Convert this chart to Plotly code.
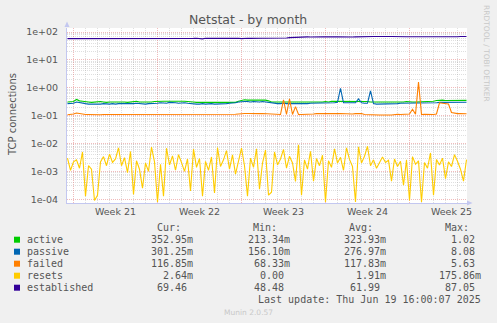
import pandas as pd
import plotly.graph_objects as go

# ---------------- data (6-hour samples) ----------------
start_time = "2025-05-18 12:00"
n_samples = 134

active = [0.31,0.31,0.32,0.38,0.34,0.33,0.31,0.31,0.30,0.31,
          0.31,0.32,0.31,0.30,0.31,0.31,0.32,0.31,0.31,0.31,
          0.30,0.31,0.31,0.33,0.31,0.31,0.30,0.31,0.31,0.32,
          0.33,0.34,0.33,0.33,0.34,0.33,0.33,0.32,0.33,0.33,
          0.33,0.32,0.31,0.30,0.30,0.31,0.30,0.30,0.31,0.30,
          0.30,0.31,0.30,0.30,0.31,0.30,0.30,0.33,0.36,0.37,
          0.36,0.36,0.37,0.36,0.35,0.36,0.36,0.34,0.31,0.31,
          0.31,0.30,0.31,0.31,0.31,0.30,0.31,0.31,0.30,0.31,
          0.31,0.31,0.30,0.31,0.31,0.31,0.32,0.31,0.33,0.33,
          0.33,0.34,0.33,0.33,0.33,0.34,0.33,0.33,0.33,0.33,
          0.32,0.31,0.31,0.31,0.30,0.31,0.31,0.31,0.30,0.31,
          0.31,0.31,0.31,0.32,0.31,0.31,0.31,0.31,0.31,0.31,
          0.31,0.32,0.33,0.35,0.36,0.36,0.35,0.35,0.36,0.36,
          0.35,0.36,0.35,0.353]

passive = [0.27,0.27,0.28,0.31,0.29,0.28,0.27,0.26,0.26,0.25,
           0.25,0.26,0.27,0.26,0.26,0.27,0.26,0.27,0.27,0.26,
           0.26,0.27,0.27,0.28,0.27,0.27,0.26,0.27,0.27,0.27,
           0.28,0.29,0.29,0.28,0.30,0.30,0.29,0.28,0.29,0.29,
           0.28,0.27,0.27,0.26,0.26,0.27,0.26,0.27,0.27,0.26,
           0.26,0.27,0.26,0.27,0.28,0.28,0.29,0.31,0.32,0.32,
           0.32,0.31,0.32,0.31,0.31,0.32,0.31,0.30,0.28,0.27,
           0.27,0.27,0.28,0.27,0.27,0.27,0.26,0.27,0.27,0.27,
           0.27,0.28,0.28,0.28,0.28,0.28,0.29,0.28,0.29,0.29,
           0.30,0.95,0.29,0.29,0.28,0.29,0.29,0.40,0.29,0.28,
           0.28,0.78,0.27,0.26,0.26,0.26,0.27,0.26,0.26,0.26,
           0.27,0.28,0.28,0.28,0.29,0.29,0.28,0.29,0.29,0.29,
           0.29,0.28,0.29,0.29,0.30,0.30,0.30,0.29,0.30,0.30,
           0.30,0.30,0.30,0.301]

failed = [0.108,0.11,0.115,0.125,0.12,0.112,0.11,0.11,0.108,0.11,
          0.11,0.108,0.11,0.11,0.112,0.11,0.11,0.108,0.11,0.11,
          0.11,0.11,0.108,0.11,0.112,0.11,0.11,0.11,0.11,0.108,
          0.11,0.11,0.112,0.11,0.11,0.108,0.112,0.11,0.11,0.11,
          0.11,0.112,0.11,0.11,0.108,0.11,0.11,0.112,0.11,0.11,
          0.11,0.11,0.11,0.112,0.11,0.11,0.112,0.115,0.12,0.12,
          0.12,0.118,0.12,0.12,0.118,0.12,0.118,0.115,0.112,0.11,
          0.11,0.11,0.37,0.11,0.40,0.11,0.21,0.11,0.11,0.11,
          0.112,0.11,0.115,0.118,0.115,0.118,0.12,0.118,0.115,0.118,
          0.118,0.12,0.118,0.12,0.12,0.115,0.118,0.118,0.12,0.11,
          0.108,0.106,0.106,0.105,0.106,0.106,0.108,0.106,0.105,0.11,
          0.112,0.11,0.112,0.11,0.115,0.17,0.112,1.6,0.11,0.112,
          0.11,0.112,0.11,0.115,0.29,0.28,0.27,0.26,0.13,0.12,
          0.118,0.12,0.118,0.117]

resets = [3.0e-3,1.1e-3,2.2e-3,2.6e-3,1.3e-3,5.0e-3,1.3e-4,1.6e-3,1.2e-3,0.9e-4,
          1.4e-4,2.2e-3,3.4e-3,1.6e-3,4.2e-3,2.1e-3,2.8e-3,7.0e-3,1.6e-3,3.1e-3,
          0.9e-3,5.2e-3,1.5e-4,2.4e-3,1.2e-3,2.5e-4,2.0e-3,1.0e-3,7.5e-3,2.2e-3,
          0.8e-4,1.8e-3,1.3e-4,6.8e-3,1.7e-3,3.6e-3,1.1e-3,4.0e-3,2.1e-3,1.0e-3,
          2.8e-3,2.0e-4,6.3e-3,1.4e-3,2.9e-3,1.3e-4,2.3e-3,1.1e-3,3.3e-3,1.7e-4,
          7.2e-3,1.5e-3,2.6e-3,5.6e-3,1.2e-3,3.9e-3,0.8e-3,2.4e-3,6.9e-3,1.6e-3,
          1.3e-4,3.0e-3,1.4e-3,6.5e-3,2.3e-4,2.0e-3,5.8e-3,1.4e-4,1.8e-4,5.0e-3,
          1.7e-3,2.8e-3,6.2e-3,1.3e-3,3.5e-3,2.0e-3,4.4e-4,9.0e-3,1.4e-4,2.6e-3,
          1.2e-3,5.3e-3,4.5e-4,2.9e-3,1.6e-3,3.8e-3,0.8e-4,2.4e-3,1.4e-3,6.4e-3,
          2.0e-3,3.2e-3,1.1e-3,7.0e-3,2.7e-3,1.5e-3,0.8e-4,7.6e-3,2.0e-3,3.5e-3,
          8.0e-3,1.6e-3,2.6e-3,1.3e-3,2.2e-3,3.3e-3,2.1e-3,2.5e-3,4.5e-4,2.8e-3,
          1.5e-3,2.3e-3,3.2e-4,2.6e-3,0.9e-4,3.4e-3,1.8e-3,2.4e-3,0.8e-4,2.1e-3,
          1.3e-3,4.6e-3,1.4e-4,2.7e-3,1.7e-3,3.0e-3,5.5e-4,2.2e-3,1.5e-3,4.0e-3,
          2.3e-3,1.2e-3,4.5e-4,2.64e-3]

established = [58,58,57,56,58,58,59,58,58,58, 57,58,58,58,58,59,58,58,57,58,
               58,58,58,58,58,59,58,58,56,58, 58,57,58,58,58,58,58,59,58,56,
               59,59,59,60,59,57,60,59,59,59, 59,59,60,60,59,59,60,60,58,60,
               60,59,60,60,59,60,60,60,60,59, 58,59,60,61,63,64,65,66,67,66,
               67,66,67,66,66,67,67,66,67,67, 68,67,67,68,67,66,67,68,68,67,
               68,68,69,69,68,68,68,69,69,68, 68,68,69,68,68,68,67,68,68,68,
               66,64,64,64,65,67,68,68,68,68, 68,69,71,69.46]

series_names = ["active", "passive", "failed", "resets", "established"]
series_colors = ["#00cc00", "#0066b3", "#ff8000", "#ffcc00", "#330099"]
cur_vals = ["352.95m", "301.25m", "116.85m", "2.64m", "69.46"]
min_vals = ["213.34m", "156.10m", "68.33m", "0.00", "48.48"]
avg_vals = ["323.93m", "276.97m", "117.83m", "1.91m", "61.99"]
max_vals = ["1.02", "8.08", "5.63", "175.86m", "87.05"]

y_tick_vals = [1e-4, 1e-3, 1e-2, 1e-1, 1e0, 1e1, 1e2]
y_tick_text = ["1e-04", "1e-03", "1e-02", "1e-01", "1e+00", "1e+01", "1e+02"]

title_text = "Netstat - by month"
y_title = "TCP connections"
last_update = "Last update: Thu Jun 19 16:00:07 2025"
footer = "Munin 2.0.57"
side_text = "RRDTOOL / TOBI OETIKER"

# ---------------- figure ----------------
series_values = [active, passive, failed, resets, established]
for s in series_values:
    assert len(s) == n_samples, len(s)
times = pd.date_range(start_time, periods=n_samples, freq="6h")

W, H = 497, 323
PL, PR, PT, PB = 67, 467, 28, 203


def px(x):
    return (x - PL) / (PR - PL)


def py(y):
    return (PB - y) / (PB - PT)


fig = go.Figure()
for name, vals, col in zip(series_names, series_values, series_colors):
    fig.add_trace(go.Scatter(x=times, y=vals, mode="lines", name=name,
                             line=dict(color=col, width=1.1), showlegend=False,
                             hoverinfo="skip"))

MGRID = "rgba(225,120,120,0.5)"
GRID = "rgba(150,150,150,0.3)"
AXC = "#c3c7f0"
DOT = "1px,1px"

minor_y = []
for d in range(-4, 2):
    for m in range(2, 10):
        minor_y.append(m * 10 ** d)

fig.update_layout(
    width=W, height=H,
    margin=dict(l=PL, r=W - PR, t=PT, b=H - PB),
    paper_bgcolor="#f0f0f0", plot_bgcolor="#ffffff",
    font=dict(family="DejaVu Sans", size=10, color="#555555"),
    showlegend=False,
    xaxis=dict(
        type="date",
        range=["2025-05-18 11:00", "2025-06-20 19:00"],
        tick0="2025-05-19", dtick=7 * 86400000,
        ticklabelmode="period", tickformat="Week %V",
        ticks="", showgrid=True, gridcolor=MGRID, griddash=DOT, gridwidth=1,
        minor=dict(dtick=86400000, tick0="2025-05-19", showgrid=True,
                   gridcolor=GRID, griddash=DOT, gridwidth=1, ticks=""),
        showline=True, linecolor=AXC, linewidth=1, zeroline=False,
        tickfont=dict(size=9.5, color="#555555"),
        fixedrange=True,
    ),
    yaxis=dict(
        type="log",
        range=[-4.133, 2.144],
        tickmode="array", tickvals=y_tick_vals, ticktext=y_tick_text,
        ticks="", showgrid=True, gridcolor=MGRID, griddash=DOT, gridwidth=1,
        minor=dict(tickmode="array", tickvals=minor_y, showgrid=True,
                   gridcolor=GRID, griddash=DOT, gridwidth=1, ticks=""),
        showline=True, linecolor=AXC, linewidth=1, zeroline=False,
        tickfont=dict(size=9.5, color="#555555"),
        ticklabelstandoff=6,
        fixedrange=True,
    ),
)

# axis arrows
fig.add_shape(type="path", xref="paper", yref="paper", line=dict(width=0),
              fillcolor=AXC,
              path=f"M {px(64.5)} {py(27)} L {px(69.5)} {py(27)} L {px(67)} {py(21.5)} Z")
fig.add_shape(type="path", xref="paper", yref="paper", line=dict(width=0),
              fillcolor=AXC,
              path=f"M {px(467)} {py(200.5)} L {px(467)} {py(205.5)} L {px(472.5)} {py(203)} Z")

ann = []
# title
ann.append(dict(text=title_text, x=px(248), y=py(20), xanchor="center", yanchor="middle",
                font=dict(size=12.5, color="#555555", family="DejaVu Sans")))
# y title
ann.append(dict(text=y_title, x=px(12), y=py(114), xanchor="center", yanchor="middle",
                textangle=-90, font=dict(size=10, color="#555555", family="DejaVu Sans")))
# side text
ann.append(dict(text=side_text, x=px(487), y=py(53), xanchor="center", yanchor="middle",
                textangle=90, font=dict(size=7.5, color="#c8c8c8", family="DejaVu Sans")))

MONO = dict(family="DejaVu Sans Mono", size=10, color="#555555")
col_right = [194, 290.7, 386.7, 482.3]
headers = ["Cur:", "Min:", "Avg:", "Max:"]
for h, cr in zip(headers, col_right):
    ann.append(dict(text=h, x=px(cr - 12.5), y=py(227.3), xanchor="right", yanchor="middle",
                    font=MONO))

row_y = [239.7, 251.7, 263.7, 275.7, 287.7]
for i, (name, col) in enumerate(zip(series_names, series_colors)):
    yy = row_y[i]
    fig.add_shape(type="rect", xref="paper", yref="paper",
                  x0=px(14), x1=px(20), y0=py(yy + 3), y1=py(yy - 3),
                  fillcolor=col, line=dict(width=0))
    ann.append(dict(text=name, x=px(26), y=py(yy), xanchor="left", yanchor="middle",
                    font=MONO))
    for vals, cr in zip([cur_vals, min_vals, avg_vals, max_vals], col_right):
        v = vals[i]
        if not v[-1].isalpha():
            v = v + "\u00a0"
        ann.append(dict(text=v, x=px(cr), y=py(yy), xanchor="right", yanchor="middle",
                        font=MONO))

ann.append(dict(text=last_update, x=px(482.3), y=py(299.7), xanchor="right", yanchor="middle",
                font=MONO))
ann.append(dict(text=footer, x=px(248), y=py(312), xanchor="center", yanchor="middle",
                font=dict(family="DejaVu Sans", size=7.5, color="#c8c8c8")))

for a in ann:
    a.update(xref="paper", yref="paper", showarrow=False, borderpad=0)
fig.update_layout(annotations=ann)

fig.write_html("out.html", config={"displayModeBar": False})
